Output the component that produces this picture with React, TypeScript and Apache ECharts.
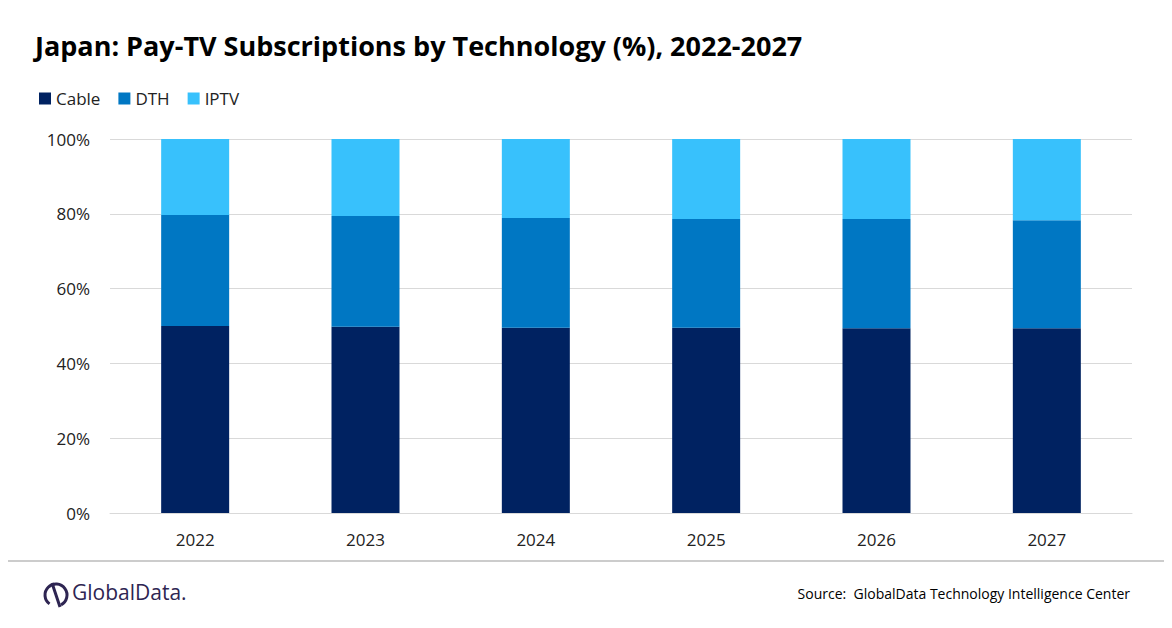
import { useEffect, useRef } from 'react'
import * as echarts from 'echarts'

const years = ['2022', '2023', '2024', '2025', '2026', '2027']
const cable = [50.0, 49.8, 49.5, 49.5, 49.4, 49.4]
const dth = [29.7, 29.6, 29.4, 29.1, 29.2, 28.9]
const iptv = [20.3, 20.6, 21.1, 21.4, 21.4, 21.7]

export default function App() {
  const ref = useRef<HTMLDivElement>(null)

  useEffect(() => {
    if (!ref.current) return
    const chart = echarts.init(ref.current, null, { renderer: 'svg' })
    const font = '"Open Sans", sans-serif'
    const bar = (name: string, data: number[], color: string) => ({
      name, type: 'bar', stack: 'total', data, barWidth: 68,
      itemStyle: { color },
    })
    chart.setOption({
      animation: false,
      textStyle: { fontFamily: font },
      title: {
        text: 'Japan: Pay-TV Subscriptions by Technology (%), 2022-2027',
        left: 30, top: 27,
        textStyle: { fontSize: 27, fontWeight: 'bold', color: '#000', fontFamily: font },
      },
      legend: {
        left: 34, top: 85, itemWidth: 12, itemHeight: 12, itemGap: 18,
        icon: 'rect',
        textStyle: { fontSize: 17, color: '#222' },
        data: ['Cable', 'DTH', 'IPTV'],
      },
      grid: { left: 110, right: 40, top: 139, bottom: 115 },
      xAxis: {
        type: 'category', data: years,
        axisLine: { lineStyle: { color: '#d9d9d9' } },
        axisTick: { show: false },
        axisLabel: { fontSize: 17, color: '#222', margin: 18 },
      },
      yAxis: {
        type: 'value', min: 0, max: 100, interval: 20,
        axisLabel: { formatter: '{value}%', fontSize: 17, color: '#222', margin: 20 },
        splitLine: { lineStyle: { color: '#d9d9d9' } },
      },
      series: [
        bar('Cable', cable, '#002261'),
        bar('DTH', dth, '#0077c3'),
        bar('IPTV', iptv, '#38c1fc'),
      ],
      graphic: [
        { type: 'line', shape: { x1: 0, y1: 561, x2: 1172, y2: 561 }, style: { stroke: '#999', lineWidth: 1 } },
        { type: 'arc', shape: { cx: 56, cy: 595, r: 11, startAngle: 2.2, endAngle: 1.1 }, style: { stroke: '#2e2552', lineWidth: 3, fill: 'none' } },
        { type: 'line', shape: { x1: 52, y1: 583, x2: 60, y2: 607 }, style: { stroke: '#2e2552', lineWidth: 3 } },
        {
          type: 'text', left: 72, top: 581,
          style: { text: 'GlobalData.', fontSize: 21, fill: '#2e2552', fontFamily: font },
        },
        {
          type: 'text', right: 42, top: 586,
          style: { text: 'Source:  GlobalData Technology Intelligence Center', fontSize: 14, fill: '#000', fontFamily: font },
        },
      ],
    })
    return () => chart.dispose()
  }, [])

  return <div ref={ref} style={{ width: 1172, height: 628, margin: -8 }} />
}
